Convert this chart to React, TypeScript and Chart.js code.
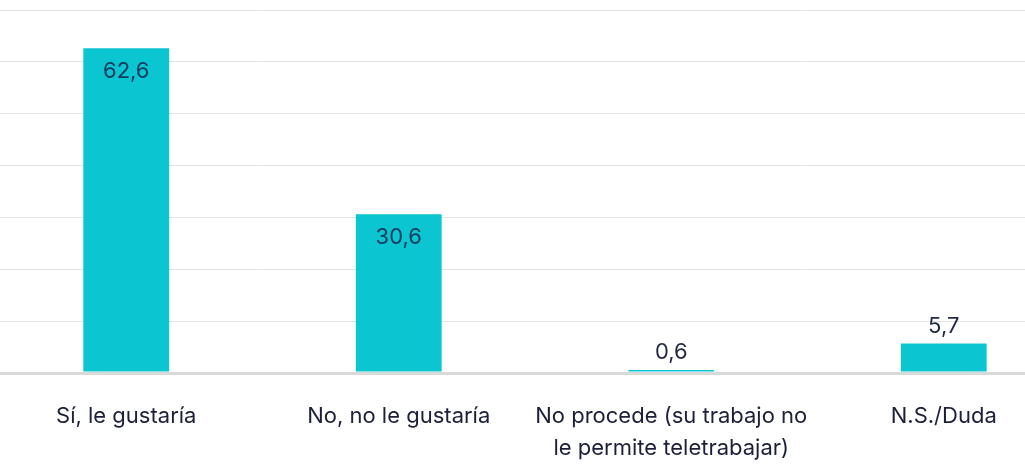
import React, { useEffect, useRef } from "react";
import { Chart, registerables } from "chart.js";

Chart.register(...registerables);

const categories: (string | string[])[] = [
  "Sí, le gustaría",
  "No, no le gustaría",
  ["No procede (su trabajo no", "le permite teletrabajar)"],
  "N.S./Duda",
];
const values: number[] = [62.6, 30.6, 0.6, 5.7];
const valueLabels: string[] = ["62,6", "30,6", "0,6", "5,7"];
const yMax = 70;
const yStep = 10;

const FONT = "Inter, 'Open Sans', sans-serif";
const CANVAS_H = 483;

const labelPlugin = {
  id: "barLabels",
  afterDatasetsDraw(chart: any) {
    const meta = chart.getDatasetMeta(0);
    const ctx = chart.ctx;
    ctx.save();
    ctx.font = `400 22px ${FONT}`;
    ctx.textAlign = "center";
    ctx.textBaseline = "middle";
    meta.data.forEach((bar: any, i: number) => {
      const h = bar.base - bar.y;
      if (h > 60) {
        ctx.fillStyle = "#123a5c";
        ctx.fillText(valueLabels[i], bar.x, bar.y + 23);
      } else {
        ctx.fillStyle = "#1e2a44";
        ctx.fillText(valueLabels[i], bar.x, bar.y - 17);
      }
    });
    ctx.restore();
  },
};

export default function App() {
  const ref = useRef<HTMLCanvasElement | null>(null);
  useEffect(() => {
    document.body.style.margin = "0";
    document.body.style.overflow = "hidden";
    if (!ref.current) return;
    const chart = new Chart(ref.current, {
      type: "bar",
      data: {
        labels: categories,
        datasets: [
          {
            data: values,
            backgroundColor: "#0bc5d1",
            borderWidth: 0,
            categoryPercentage: 1,
            barPercentage: 0.315,
          },
        ],
      },
      options: {
        animation: false,
        responsive: false,
        maintainAspectRatio: false,
        layout: { padding: { top: 10, bottom: 0, left: 0, right: 0 } },
        plugins: {
          legend: { display: false },
          tooltip: { enabled: false },
        },
        scales: {
          x: {
            grid: { display: false },
            border: { display: false },
            ticks: {
              color: "#1c1f3a",
              font: { family: FONT, size: 22, lineHeight: 32 / 22 },
              padding: 19,
              maxRotation: 0,
              autoSkip: false,
            },
          },
          y: {
            min: 0,
            max: yMax,
            ticks: { display: false, stepSize: yStep },
            border: { display: false },
            grid: {
              drawTicks: false,
              color: (c: any) => (c.tick && c.tick.value === 0 ? "#d9d9d9" : "#e3e3e3"),
              lineWidth: (c: any) => (c.tick && c.tick.value === 0 ? 3 : 1),
            },
          },
        },
      },
      plugins: [labelPlugin],
    });
    return () => chart.destroy();
  }, []);
  return (
    <div
      style={{
        position: "fixed",
        left: 0,
        top: 0,
        width: 1025,
        height: 470,
        overflow: "hidden",
        background: "#fff",
      }}
    >
      <div style={{ position: "absolute", left: -10, top: 0, width: 1090, height: CANVAS_H }}>
        <canvas ref={ref} width={1090} height={CANVAS_H} style={{ width: 1090, height: CANVAS_H }} />
      </div>
    </div>
  );
}
